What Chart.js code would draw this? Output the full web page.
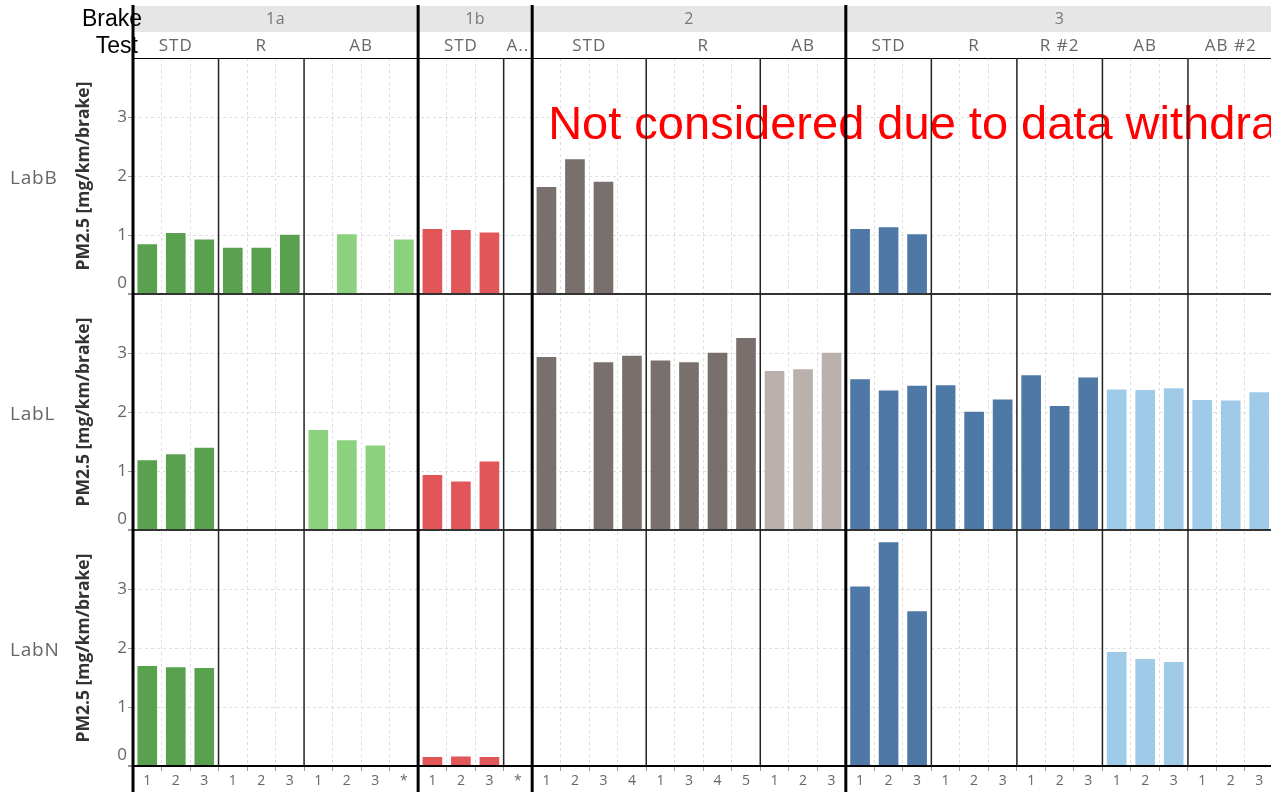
<!DOCTYPE html>
<html>
<head>
<meta charset="utf-8">
<script src="https://cdn.jsdelivr.net/npm/chart.js@4"></script>
<style>
  html, body { margin: 0; padding: 0; background: #fff; overflow: hidden; }
  #wrap { position: relative; width: 1275px; height: 796px; }
</style>
</head>
<body>
<div id="wrap"><canvas id="c"></canvas></div>
<script>
// ---- data -------------------------------------------------------------
const brakes = ['1a', '1b', '2', '3'];
const tests = [
  ['STD', 'R', 'AB'],
  ['STD', 'A..'],
  ['STD', 'R', 'AB'],
  ['STD', 'R', 'R #2', 'AB', 'AB #2']
];
const runs = [
  [['1', '2', '3'], ['1', '2', '3'], ['1', '2', '3', '*']],
  [['1', '2', '3'], ['*']],
  [['1', '2', '3', '4'], ['1', '3', '4', '5'], ['1', '2', '3']],
  [['1', '2', '3'], ['1', '2', '3'], ['1', '2', '3'], ['1', '2', '3'], ['1', '2', '3']]
];
const labs = ['LabB', 'LabL', 'LabN'];

// PM2.5 per run, in brake / test / run order (null = no test)
const labB = [
  0.86, 1.05, 0.94,  0.80, 0.80, 1.02,  null, 1.03, null, 0.94,
  1.12, 1.10, 1.06,  null,
  1.83, 2.30, 1.92, null,  null, null, null, null,  null, null, null,
  1.12, 1.15, 1.03,  null, null, null,  null, null, null,  null, null, null,  null, null, null
];
const labL = [
  1.20, 1.30, 1.41,  null, null, null,  1.71, 1.54, 1.45, null,
  0.95, 0.84, 1.18,  null,
  2.95, null, 2.86, 2.97,  2.89, 2.86, 3.02, 3.27,  2.71, 2.74, 3.02,
  2.57, 2.38, 2.46,  2.47, 2.02, 2.23,  2.64, 2.12, 2.60,  2.40, 2.39, 2.42,  2.22, 2.21, 2.35
];
const labN = [
  1.71, 1.69, 1.68,  null, null, null,  null, null, null, null,
  0.17, 0.18, 0.17,  null,
  null, null, null, null,  null, null, null, null,  null, null, null,
  3.06, 3.81, 2.64,  null, null, null,  null, null, null,  1.95, 1.83, 1.78,  null, null, null
];

// [regular, abrasion] colour per brake
const brakeColors = [
  ['#59A14F', '#8CD17D'],
  ['#E15759', '#FF9D9A'],
  ['#79706E', '#BAB0AC'],
  ['#4E79A7', '#A0CBE8']
];
const yTicks = [0, 1, 2, 3];
const yTitle = 'PM2.5 [mg/km/brake]';
const note = 'Not considered due to data withdrawal';

// ---- flatten the brake / test / run hierarchy -------------------------
const cats = [];
brakes.forEach((b, bi) => tests[bi].forEach((t, ti) =>
  runs[bi][ti].forEach(r => cats.push({ bi, ti, run: r }))));
const labels = cats.map(c => c.run);
const barColors = cats.map(c => brakeColors[c.bi][tests[c.bi][c.ti].startsWith('A') ? 1 : 0]);

// boundary kind at the left edge of category i (i = 0..cats.length)
function edgeKind(i) {
  if (i === 0 || i === cats.length) return 'brake';
  if (cats[i].bi !== cats[i - 1].bi) return 'brake';
  if (cats[i].ti !== cats[i - 1].ti) return 'test';
  return 'run';
}

const FONT = '"Open Sans", "Noto Sans", sans-serif';
const labData = [labB, labL, labN];
const axisIds = ['yB', 'yL', 'yN'];

const datasets = labs.map((lab, k) => ({
  label: lab,
  data: labData[k],
  yAxisID: axisIds[k],
  grouped: false,
  backgroundColor: barColors,
  borderColor: 'rgba(255,255,255,0.45)',
  borderWidth: 1,
  categoryPercentage: 1,
  barPercentage: 0.76
}));

function yScale(k) {
  return {
    type: 'linear',
    position: 'left',
    stack: 'labs',
    stackWeight: 1,
    weight: 3 - k,
    min: 0,
    max: 4,
    afterFit: s => { s.width = 133; },
    ticks: { display: false, stepSize: 1 },
    border: {
      display: false,
      dash: c => (c.tick && c.tick.value > 0 && c.tick.value < 4) ? [3, 3] : []
    },
    grid: {
      drawTicks: true,
      tickLength: 5,
      color: c => {
        if (!c.tick) return 'rgba(0,0,0,0)';
        const v = c.tick.value;
        if (v === 0) return '#333';
        if (v === 4) return k === 0 ? '#000' : 'rgba(0,0,0,0)';
        return '#dedede';
      },
      lineWidth: c => (c.tick && c.tick.value === 0) ? 2 : 1,
      tickColor: c => (c.tick && c.tick.value < 4) ? '#999' : 'rgba(0,0,0,0)'
    },
    title: {
      display: true,
      text: yTitle,
      color: '#333',
      font: { family: FONT, size: 17.5, weight: 'bold' },
      padding: { top: 74, bottom: 0 }
    }
  };
}

// ---- headers, separators, row labels ---------------------------------
const trellis = {
  id: 'trellis',
  afterDraw(chart) {
    const { ctx } = chart;
    const xs = chart.scales.x;
    const step = xs.getPixelForValue(1) - xs.getPixelForValue(0);
    const edge = i => xs.getPixelForValue(i) - step / 2;
    const n = cats.length;
    const bandTop = 6, bandBot = 32, headBot = chart.chartArea.top;

    ctx.save();

    // note over the withdrawn lab results
    const firstOf2 = cats.findIndex(c => c.bi === 2);
    ctx.fillStyle = '#ff0000';
    ctx.font = '47px "Liberation Sans", Arial, sans-serif';
    ctx.textAlign = 'left';
    ctx.textBaseline = 'alphabetic';
    ctx.fillText(note, edge(firstOf2) + 16, chart.scales.yB.getPixelForValue(2.62));

    // brake header band
    ctx.fillStyle = '#e6e6e6';
    ctx.fillRect(edge(0), bandTop, edge(n) - edge(0), bandBot - bandTop);

    // brake and test labels
    ctx.textBaseline = 'middle';
    ctx.textAlign = 'center';
    brakes.forEach((b, bi) => {
      const idx = cats.map((c, i) => c.bi === bi ? i : -1).filter(i => i >= 0);
      const cx = (edge(idx[0]) + edge(idx[idx.length - 1] + 1)) / 2;
      ctx.fillStyle = '#777';
      ctx.font = '16px ' + FONT;
      ctx.letterSpacing = '0.5px';
      ctx.fillText(b, cx, (bandTop + bandBot) / 2);
      tests[bi].forEach((t, ti) => {
        const ti_idx = idx.filter(i => cats[i].ti === ti);
        const tx = (edge(ti_idx[0]) + edge(ti_idx[ti_idx.length - 1] + 1)) / 2;
        ctx.fillStyle = '#666';
        ctx.font = '17px ' + FONT;
        ctx.letterSpacing = '1px';
        ctx.fillText(t, tx, (bandBot + headBot) / 2 + 1);
      });
    });
    ctx.letterSpacing = '0px';

    // header row captions
    ctx.fillStyle = '#000';
    ctx.font = '23px "Liberation Sans", Arial, sans-serif';
    ctx.textAlign = 'right';
    ctx.fillText('Brake', 142, 20);
    ctx.fillText('Test', 138, 47);

    // vertical separators
    for (let i = 0; i <= n; i++) {
      const kind = edgeKind(i);
      if (kind === 'run') continue;
      const x = edge(i);
      ctx.beginPath();
      if (kind === 'brake') {
        ctx.strokeStyle = '#000';
        ctx.lineWidth = 3;
        ctx.moveTo(x, bandTop - 1);
        ctx.lineTo(x, 792);
      } else {
        ctx.strokeStyle = '#222';
        ctx.lineWidth = 1.5;
        ctx.moveTo(x, headBot);
        ctx.lineTo(x, chart.chartArea.bottom);
      }
      ctx.stroke();
    }

    // row captions and value labels
    axisIds.forEach((id, k) => {
      const ys = chart.scales[id];
      ctx.fillStyle = '#666';
      ctx.textAlign = 'left';
      ctx.font = '19px ' + FONT;
      ctx.letterSpacing = '0.8px';
      ctx.fillText(labs[k], 10, (ys.top + ys.bottom) / 2 + 3);
      ctx.letterSpacing = '0px';
      ctx.textAlign = 'right';
      ctx.font = '17px ' + FONT;
      yTicks.forEach(v => {
        let py = ys.getPixelForValue(v);
        if (v === 0) py -= 11;
        ctx.fillText(String(v), 127, py);
      });
    });

    ctx.restore();
  }
};

new Chart(document.getElementById('c'), {
  type: 'bar',
  data: { labels, datasets },
  options: {
    responsive: true,
    maintainAspectRatio: false,
    animation: false,
    layout: { padding: { top: 58, left: 0, right: 1.5, bottom: 0 } },
    plugins: { legend: { display: false }, tooltip: { enabled: false } },
    scales: {
      x: {
        type: 'category',
        position: 'bottom',
        offset: true,
        afterFit: s => { s.height = 30; },
        grid: {
          offset: true,
          drawTicks: true,
          tickLength: 5,
          tickColor: '#999',
          color: c => (c.index !== undefined && edgeKind(c.index) === 'run') ? '#dedede' : 'rgba(0,0,0,0)',
          lineWidth: 1
        },
        border: { display: true, color: '#000', width: 2, dash: [3, 3] },
        ticks: {
          color: '#666',
          font: { family: FONT, size: 14 },
          padding: 2,
          maxRotation: 0,
          autoSkip: false
        }
      },
      yB: yScale(0),
      yL: yScale(1),
      yN: yScale(2)
    }
  },
  plugins: [trellis]
});
</script>
</body>
</html>
